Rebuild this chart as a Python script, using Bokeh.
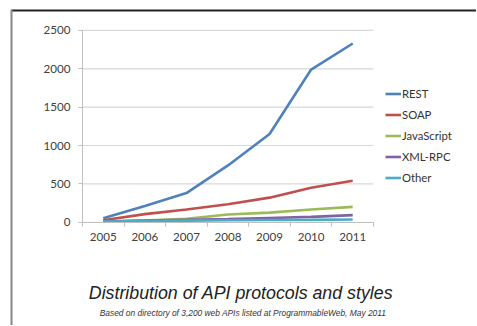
from bokeh.plotting import figure
from bokeh.models import (Legend, LegendItem, FixedTicker, Label, Range1d)
from bokeh.embed import file_html
from bokeh.resources import INLINE

years = ["2005", "2006", "2007", "2008", "2009", "2010", "2011"]
rest = [50, 210, 380, 740, 1150, 1990, 2330]
soap = [25, 105, 165, 235, 320, 450, 540]
javascript = [10, 20, 45, 100, 125, 165, 200]
xmlrpc = [10, 20, 30, 40, 55, 70, 92]
other = [10, 15, 20, 25, 28, 30, 35]

series_names = ["REST", "SOAP", "JavaScript", "XML-RPC", "Other"]
series_values = [rest, soap, javascript, xmlrpc, other]
colors = ["#4F81BD", "#C0504D", "#9BBB59", "#8064A2", "#4BACC6"]
y_ticks = [0, 500, 1000, 1500, 2000, 2500]

title_text = "Distribution of API protocols and styles"
subtitle_text = "Based on directory of 3,200 web APIs listed at ProgrammableWeb, May 2011"

# category slots: one unit per year
xs = [i + 0.5 for i in range(len(years))]
n = len(years)
ymax = y_ticks[-1]

# page layout helpers (pixels -> data units of the full-canvas frame)
PX_X = 41.57          # px per category
PX_Y = 38.35 / 500.0  # px per unit
AX_X, AX_Y = 82.0, 221.7  # page position of plot origin
W, H = 476, 325
LEFT, TOP = 0.0, 0.0


def dx(px):
    return (px - AX_X) / PX_X


def dy(py):
    return (AX_Y - py) / PX_Y


p = figure(width=W, height=H, output_backend="svg", toolbar_location=None,
           x_range=Range1d(dx(LEFT), dx(LEFT + W)), y_range=Range1d(dy(TOP + H), dy(TOP)),
           min_border=0)
p.outline_line_color = None
p.background_fill_color = "white"
p.border_fill_color = "white"
p.xgrid.grid_line_color = None
p.ygrid.grid_line_color = None

# slide border: top (dark) and left (grey) edges
p.segment(x0=[dx(11)], x1=[dx(LEFT + W + 5)], y0=[dy(10)], y1=[dy(10)],
          line_color="#222222", line_width=2)
p.segment(x0=[dx(11)], x1=[dx(11)], y0=[dy(9)], y1=[dy(TOP + H + 5)],
          line_color="#888888", line_width=2)

# horizontal gridlines limited to the plot area
gy = y_ticks[1:]
p.segment(x0=[0] * len(gy), x1=[n] * len(gy), y0=gy, y1=gy,
          line_color="#d9d9d9", line_width=1.2)

items = []
for name, vals, c in zip(series_names, series_values, colors):
    r = p.line(xs, vals, line_color=c, line_width=2.6)
    items.append(LegendItem(label=name, renderers=[r]))

# axes at fixed locations
p.xaxis.fixed_location = 0
p.xaxis.bounds = (0, n)
p.xaxis.ticker = FixedTicker(ticks=xs, minor_ticks=list(range(n + 1)))
p.xaxis.major_label_overrides = {x: y for x, y in zip(xs, years)}
p.xaxis.major_tick_line_color = None
p.xaxis.major_tick_out = 4
p.xaxis.major_tick_in = 0
p.xaxis.minor_tick_line_color = "#bfbfbf"
p.xaxis.minor_tick_out = 4
p.xaxis.minor_tick_in = 0
p.xaxis.major_label_standoff = 7
p.xaxis.axis_line_color = "#bfbfbf"

p.yaxis.fixed_location = 0
p.yaxis.bounds = (0, ymax)
p.yaxis.ticker = FixedTicker(ticks=y_ticks)
p.yaxis.major_tick_line_color = "#bfbfbf"
p.yaxis.major_tick_out = 4
p.yaxis.major_tick_in = 0
p.yaxis.minor_tick_line_color = None
p.yaxis.major_label_standoff = 8
p.yaxis.axis_line_color = "#bfbfbf"

for ax in (p.xaxis, p.yaxis):
    ax.major_label_text_font = "Lato"
    ax.major_label_text_font_size = "11.6px"
    ax.major_label_text_color = "#404040"

# legend location is measured from the frame's bottom-left corner
legend = Legend(items=items, location=(385 - LEFT, (TOP + H) - 184.5), orientation="vertical",
                label_text_font="Lato", label_text_font_size="11.3px",
                label_text_color="#333333", glyph_width=16, glyph_height=15,
                label_height=15, spacing=6, label_standoff=1, padding=0, margin=0,
                border_line_color=None, background_fill_alpha=0)
p.add_layout(legend, "center")

p.add_layout(Label(x=dx(240.5), y=dy(292), text=title_text, text_align="center",
                   text_baseline="middle", text_font="Liberation Sans",
                   text_font_style="italic", text_font_size="17.8px", text_color="#222222"))
p.add_layout(Label(x=dx(242.5), y=dy(312), text=subtitle_text, text_align="center",
                   text_baseline="middle", text_font="Liberation Sans",
                   text_font_style="italic", text_font_size="8.4px", text_color="#333333"))

open("out.html", "w").write(file_html(p, INLINE))
